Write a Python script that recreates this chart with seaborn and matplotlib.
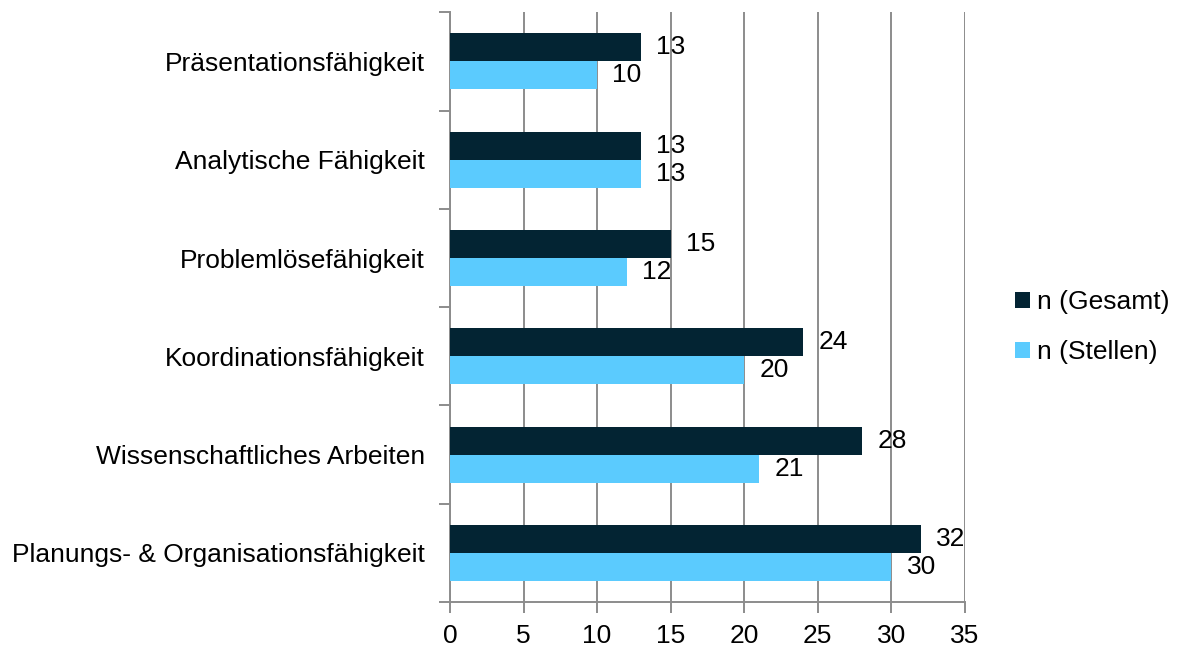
import pandas as pd
import numpy as np
import matplotlib.pyplot as plt
import seaborn as sns
from matplotlib.ticker import FixedLocator

categories = ['Präsentationsfähigkeit', 'Analytische Fähigkeit', 'Problemlösefähigkeit',
              'Koordinationsfähigkeit', 'Wissenschaftliches Arbeiten',
              'Planungs- & Organisationsfähigkeit']
gesamt = [13, 13, 15, 24, 28, 32]
stellen = [10, 13, 12, 20, 21, 30]
series = ['n (Gesamt)', 'n (Stellen)']
x_ticks = [0, 5, 10, 15, 20, 25, 30, 35]

df = pd.DataFrame({
    'Kategorie': categories * 2,
    'Wert': gesamt + stellen,
    'Serie': [series[0]] * len(categories) + [series[1]] * len(categories),
})

sns.set_style('white')
plt.rcParams['font.family'] = ['Liberation Sans', 'DejaVu Sans']
plt.rcParams['text.color'] = 'black'

fig = plt.figure(figsize=(11.81, 6.48), dpi=100)
ax = fig.add_axes([0.381, 0.071, 0.436, 0.910])

grid_col = '#8c8c8c'
sns.barplot(data=df, x='Wert', y='Kategorie', hue='Serie', order=categories,
            hue_order=series, palette=['#032433', '#5bcbfe'], orient='h',
            width=0.57, gap=0, saturation=1, linewidth=0, edgecolor='none',
            ax=ax, zorder=3)

for c in ax.containers:
    ax.bar_label(c, fmt='%d', padding=11, fontsize=19, color='black')

ax.set_xlim(0, 35)
ax.set_ylim(5.5, -0.5)
ax.xaxis.set_major_locator(FixedLocator(x_ticks))
ax.grid(axis='x', color=grid_col, linewidth=1.4, zorder=0)
ax.set_axisbelow(True)
ax.set_xlabel('')
ax.set_ylabel('')

for s in ['top', 'right']:
    ax.spines[s].set_visible(False)
for s in ['left', 'bottom']:
    ax.spines[s].set_color(grid_col)
    ax.spines[s].set_linewidth(1.4)

ax.tick_params(axis='x', length=8, width=1.4, color=grid_col, labelsize=19,
               labelcolor='black', pad=8)
ax.tick_params(axis='y', which='major', length=0, labelsize=19, labelcolor='black', pad=18)
ax.yaxis.set_minor_locator(FixedLocator(np.arange(-0.5, 6.0, 1.0)))
ax.tick_params(axis='y', which='minor', length=8, width=1.4, color=grid_col)
ax.tick_params(axis='both', direction='out', bottom=True, left=True)
ax.tick_params(axis='y', which='minor', left=True)

ax.legend(loc='center left', bbox_to_anchor=(1.052, 0.466), frameon=False, fontsize=19,
          handlelength=0.55, handleheight=0.55, handletextpad=0.25, labelspacing=1.0,
          title=None)

plt.savefig('out.png', dpi=100)
